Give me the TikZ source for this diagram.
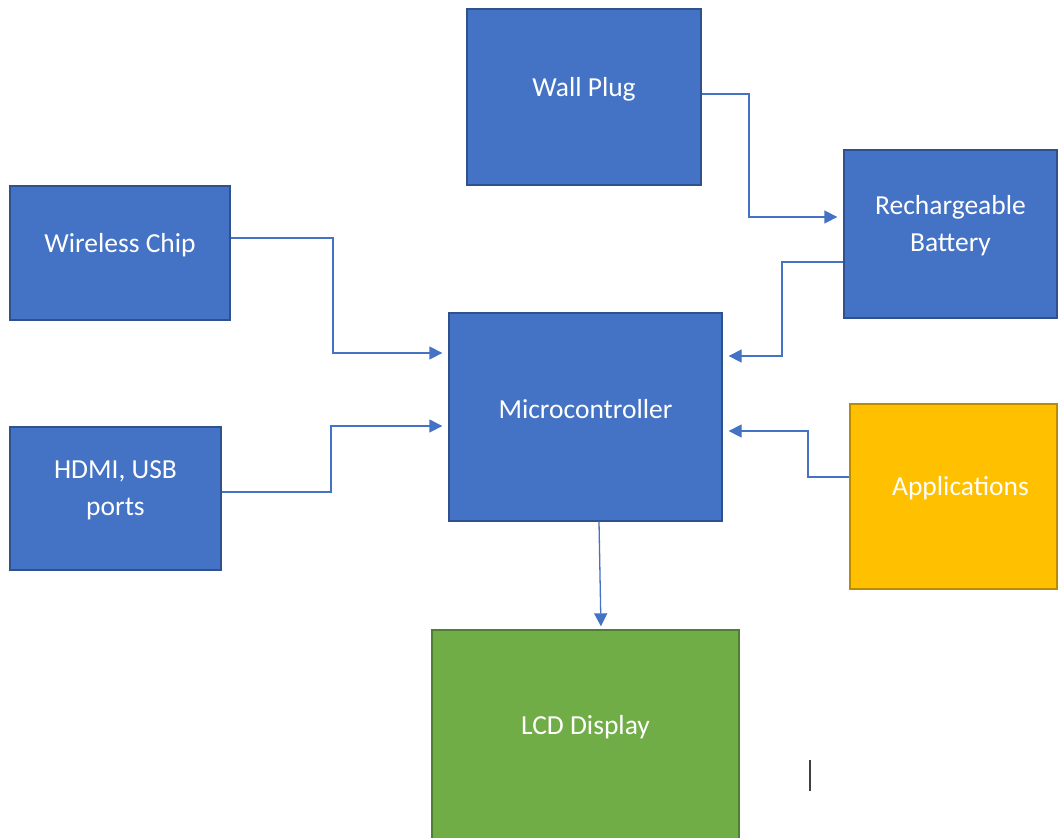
\documentclass[tikz,border=0pt]{standalone}
\usepackage{fontspec}
\setmainfont{Carlito}
\usetikzlibrary{arrows.meta}
\definecolor{boxblue}{HTML}{4472C4}
\definecolor{edgeblue}{HTML}{2F528F}
\definecolor{boxyellow}{HTML}{FFC000}
\definecolor{edgeyellow}{HTML}{BC8C00}
\definecolor{boxgreen}{HTML}{70AD47}
\definecolor{edgegreen}{HTML}{507E32}
\tikzset{
  block/.style={rectangle, draw=edgeblue, fill=boxblue, line width=1.3pt, inner sep=0pt},
  yblock/.style={block, draw=edgeyellow, fill=boxyellow},
  gblock/.style={block, draw=edgegreen, fill=boxgreen},
  caption/.style={text=white, align=center, font=\fontsize{27.5}{37}\selectfont, inner sep=0pt},
  conn/.style={draw=boxblue, line width=1.3pt, -{Triangle[length=13pt,width=13pt]}, shorten >=6pt},
}
\begin{document}
\begin{tikzpicture}[x=1pt,y=-1pt]
\useasboundingbox (0,0) rectangle (1058,838);

% blocks
\node[block, minimum width=234pt, minimum height=176pt] (wall) at (584,97) {};
\node[block, minimum width=213pt, minimum height=168pt] (batt) at (950.5,234) {};
\node[block, minimum width=220pt, minimum height=134pt] (wifi) at (120,253) {};
\node[block, minimum width=273pt, minimum height=208pt] (mcu) at (585.5,417) {};
\node[block, minimum width=211pt, minimum height=143pt] (ports) at (115.5,498.5) {};
\node[yblock, minimum width=207pt, minimum height=185pt] (apps) at (953.5,496.5) {};
\node[gblock, minimum width=307pt, minimum height=210pt] (lcd) at (585.5,735) {};

% captions
\node[caption] (wallt) at ([yshift=8pt]wall.center) {Wall Plug};
\node[caption] (battt) at ([yshift=8pt]batt.center) {Rechargeable\\Battery};
\node[caption] (wifit) at ([yshift=8pt]wifi.center) {Wireless Chip};
\node[caption] (mcut) at ([yshift=8pt]mcu.center) {Microcontroller};
\node[caption] (portst) at ([yshift=8pt]ports.center) {HDMI, USB\\ports};
\node[caption] (appst) at ([xshift=7pt,yshift=8pt]apps.center) {Applications};
\node[caption] (lcdt) at ([yshift=8pt]lcd.center) {LCD Display};

% connectors
\draw[conn] (wall.east |- 0,94) -| (749,217) -- (batt.west |- 0,217);
\draw[conn] (batt.west |- 0,262) -| (782,356) -- (mcu.east |- 0,356);
\draw[conn] (wifi.east |- 0,238) -| (333,353) -- (mcu.west |- 0,353);
\draw[conn] (ports.east |- 0,492) -| (331,426) -- (mcu.west |- 0,426);
\draw[conn] (apps.west |- 0,477) -| (808,431) -- (mcu.east |- 0,431);
\draw[conn, shorten >=3pt] (mcu.south -| 599,0) -- (lcd.north -| 601,0);

% text cursor mark
\draw[line width=1.6pt, black!75] (810,760) -- (810,791);
\end{tikzpicture}
\end{document}
